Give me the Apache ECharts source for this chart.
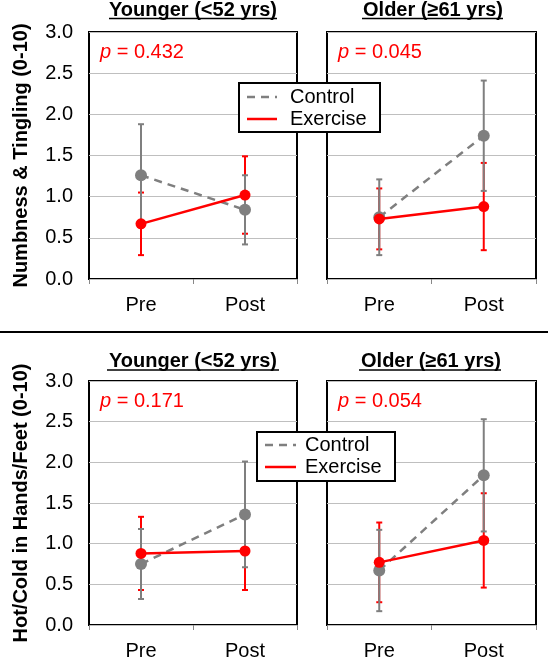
<!DOCTYPE html>
<html>
<head>
<meta charset="utf-8">
<script src="https://cdn.jsdelivr.net/npm/echarts@6/dist/echarts.min.js"></script>
<style>html,body{margin:0;padding:0;background:#fff;}#c{width:550px;height:661px;}</style>
</head>
<body>
<div id="c"></div>
<script>
// ---- data ----
const categories = ['Pre', 'Post'];
const yTickMin = 0, yTickMax = 3, yTickStep = 0.5;

const panelTitles = ['Younger (<52 yrs)', 'Older (\u226561 yrs)', 'Younger (<52 yrs)', 'Older (\u226561 yrs)'];
const rowTitles = ['Numbness & Tingling (0-10)', 'Hot/Cold in Hands/Feet (0-10)'];
const pValues = ['0.432', '0.045', '0.171', '0.054'];
const seriesNames = ['Control', 'Exercise'];

// Numbness & Tingling, Younger
const numbYoungControl = [1.26, 0.84];
const numbYoungControlErr = [0.62, 0.42];
const numbYoungExercise = [0.67, 1.02];
const numbYoungExerciseErr = [0.38, 0.47];
// Numbness & Tingling, Older
const numbOldControl = [0.75, 1.74];
const numbOldControlErr = [0.46, 0.67];
const numbOldExercise = [0.73, 0.88];
const numbOldExerciseErr = [0.37, 0.53];
// Hot/Cold, Younger
const hotYoungControl = [0.75, 1.36];
const hotYoungControlErr = [0.43, 0.65];
const hotYoungExercise = [0.88, 0.91];
const hotYoungExerciseErr = [0.45, 0.48];
// Hot/Cold, Older
const hotOldControl = [0.67, 1.84];
const hotOldControlErr = [0.50, 0.69];
const hotOldExercise = [0.77, 1.04];
const hotOldExerciseErr = [0.49, 0.58];

const panelData = [
  [numbYoungControl, numbYoungControlErr, numbYoungExercise, numbYoungExerciseErr],
  [numbOldControl, numbOldControlErr, numbOldExercise, numbOldExerciseErr],
  [hotYoungControl, hotYoungControlErr, hotYoungExercise, hotYoungExerciseErr],
  [hotOldControl, hotOldControlErr, hotOldExercise, hotOldExerciseErr]
];

// ---- layout / style ----
const FONT = '"Liberation Sans", Arial, sans-serif';
const GRAY = '#7f7f7f';
const RED = '#ff0000';
const grids = [
  {left: 89, top: 32, width: 208, height: 247},
  {left: 327, top: 32, width: 209, height: 247},
  {left: 89, top: 381, width: 208, height: 246},
  {left: 327, top: 381, width: 209, height: 246}
];

function errRender(color) {
  return function (params, api) {
    const x = api.value(0), m = api.value(1), e = api.value(2);
    const t = api.coord([x, m + e]);
    const b = api.coord([x, m - e]);
    const hw = 3;
    const st = {stroke: color, lineWidth: 2};
    return {type: 'group', children: [
      {type: 'line', shape: {x1: t[0], y1: t[1], x2: b[0], y2: b[1]}, style: st},
      {type: 'line', shape: {x1: t[0] - hw, y1: t[1], x2: t[0] + hw, y2: t[1]}, style: st},
      {type: 'line', shape: {x1: b[0] - hw, y1: b[1], x2: b[0] + hw, y2: b[1]}, style: st}
    ]};
  };
}

const grid = [], xAxis = [], yAxis = [], series = [];
grids.forEach((g, i) => {
  grid.push(Object.assign({show: true, borderColor: '#000', borderWidth: 2, backgroundColor: 'transparent', containLabel: false}, g));
  xAxis.push({
    type: 'category', gridIndex: i, data: categories, boundaryGap: true,
    axisLine: {show: false},
    axisTick: {show: true, length: 5, lineStyle: {color: '#888', width: 1}},
    axisLabel: {color: '#000', fontFamily: FONT, fontSize: 20, margin: 16}
  });
  const left = (i % 2 === 0);
  yAxis.push({
    type: 'value', gridIndex: i, min: yTickMin, max: yTickMax, interval: yTickStep,
    axisLine: {show: false}, axisTick: {show: false},
    splitLine: {show: true, lineStyle: {color: '#bfbfbf', width: 1}},
    axisLabel: {show: left, color: '#000', fontFamily: FONT, fontSize: 20, margin: 16,
      formatter: v => v.toFixed(1)},
    name: left ? rowTitles[i >> 1] : '',
    nameLocation: 'middle', nameRotate: 90, nameGap: 58,
    nameTextStyle: {color: '#000', fontFamily: FONT, fontSize: 20, fontWeight: 'bold'}
  });
  const [c, ce, ex, exe] = panelData[i];
  series.push({
    type: 'custom', xAxisIndex: i, yAxisIndex: i, z: 2,
    renderItem: errRender(RED), encode: {x: 0, y: 1},
    data: categories.map((_, k) => [k, ex[k], exe[k]])
  });
  series.push({
    type: 'custom', xAxisIndex: i, yAxisIndex: i, z: 2,
    renderItem: errRender(GRAY), encode: {x: 0, y: 1},
    data: categories.map((_, k) => [k, c[k], ce[k]])
  });
  series.push({
    name: seriesNames[0], type: 'line', xAxisIndex: i, yAxisIndex: i, z: 3,
    data: c, symbol: 'circle', symbolSize: 12, showSymbol: true,
    lineStyle: {color: GRAY, width: 2.5, type: [8, 6]},
    itemStyle: {color: GRAY}, animation: false
  });
  series.push({
    name: seriesNames[1], type: 'line', xAxisIndex: i, yAxisIndex: i, z: 4,
    data: ex, symbol: 'circle', symbolSize: 11, showSymbol: true,
    lineStyle: {color: RED, width: 2.5},
    itemStyle: {color: RED}, animation: false
  });
});

// ---- annotations (titles, p-values, legends, separator) ----
const graphic = [];
const titlePos = [[193, 10], [433, 10], [193, 361], [431, 361]];
panelTitles.forEach((t, i) => {
  graphic.push({type: 'text', x: titlePos[i][0], y: titlePos[i][1], z: 10,
    style: {text: t, font: 'bold 20px ' + FONT, fill: '#000', align: 'center', verticalAlign: 'middle'}});
});
const ulines = [[109, 277, 18.5], [362, 503, 18.5], [107, 279, 370], [359, 501, 370]];
ulines.forEach(u => graphic.push({type: 'line', z: 10,
  shape: {x1: u[0], y1: u[2], x2: u[1], y2: u[2]}, style: {stroke: '#000', lineWidth: 1.5}}));

const pPos = [[100, 52], [338, 52], [100, 401], [338, 401]];
pValues.forEach((p, i) => {
  graphic.push({type: 'text', x: pPos[i][0], y: pPos[i][1], z: 10,
    style: {text: '{i|p} = ' + p, fill: RED, font: '20px ' + FONT, verticalAlign: 'middle',
      rich: {i: {fontStyle: 'italic', fontSize: 20, fontFamily: FONT, fill: RED}}}});
});

function legend(x, y, w, h, lx1, lx2, tx, r1, r2) {
  graphic.push({type: 'rect', z: 20, shape: {x: x, y: y, width: w, height: h},
    style: {fill: '#fff', stroke: '#000', lineWidth: 2}});
  graphic.push({type: 'line', z: 21, shape: {x1: lx1, y1: r1, x2: lx2, y2: r1},
    style: {stroke: GRAY, lineWidth: 2.5, lineDash: [8, 6]}});
  graphic.push({type: 'line', z: 21, shape: {x1: lx1, y1: r2, x2: lx2, y2: r2},
    style: {stroke: RED, lineWidth: 2.5}});
  graphic.push({type: 'text', z: 21, x: tx, y: r1,
    style: {text: seriesNames[0], font: '20px ' + FONT, fill: '#000', verticalAlign: 'middle'}});
  graphic.push({type: 'text', z: 21, x: tx, y: r2,
    style: {text: seriesNames[1], font: '20px ' + FONT, fill: '#000', verticalAlign: 'middle'}});
}
legend(239, 83, 141, 49, 247, 277, 290, 97, 119);
legend(257, 432, 138, 49, 265, 296, 305, 445, 467);

graphic.push({type: 'line', z: 10, shape: {x1: 0, y1: 332, x2: 548, y2: 332},
  style: {stroke: '#000', lineWidth: 2}});

const chart = echarts.init(document.getElementById('c'), null, {renderer: 'canvas'});
chart.setOption({
  animation: false,
  backgroundColor: '#fff',
  textStyle: {fontFamily: FONT},
  grid: grid, xAxis: xAxis, yAxis: yAxis, series: series, graphic: graphic
});
</script>
</body>
</html>
